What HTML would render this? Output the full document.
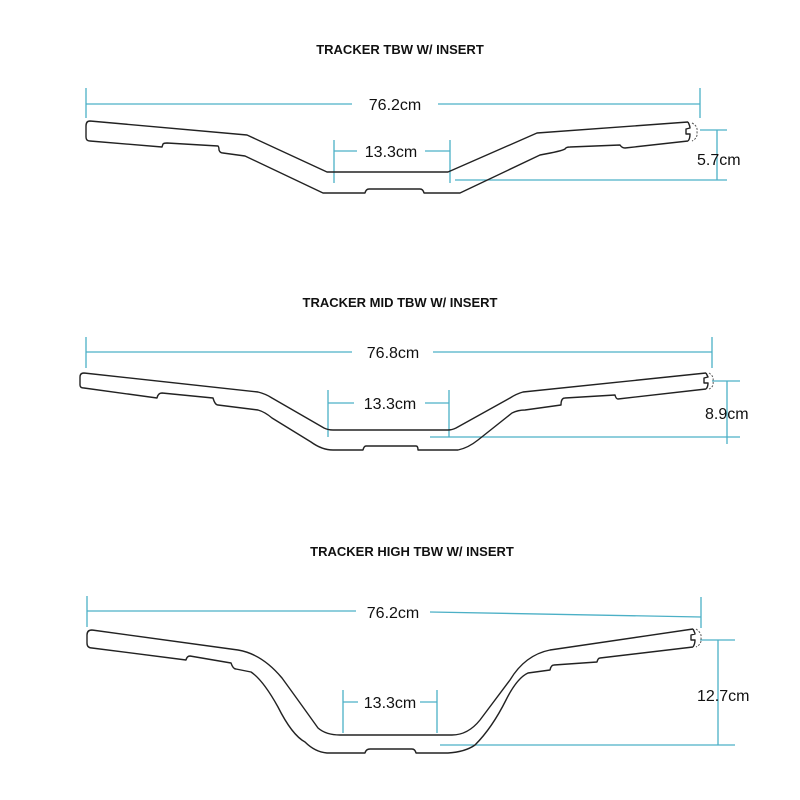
<!DOCTYPE html>
<html><head><meta charset="utf-8"><style>
html,body{margin:0;padding:0;background:#fff;}
svg{display:block;}
.t{font-family:"Liberation Sans",Arial,sans-serif;font-weight:bold;font-size:13px;fill:#111;}
.d{font-family:"Liberation Sans",Arial,sans-serif;font-size:16px;fill:#111;}
.c{stroke:#4cb0c6;stroke-width:1.3;fill:none;}
.b{stroke:#222;stroke-width:1.4;fill:none;stroke-linejoin:round;}
.dot{stroke:#555;stroke-width:1;fill:none;stroke-dasharray:2 1.5;}
</style></head><body>
<svg width="800" height="800" viewBox="0 0 800 800">
<rect width="800" height="800" fill="#fff"/>
<!-- Bar 1 -->
<text class="t" x="400" y="54" text-anchor="middle">TRACKER TBW W/ INSERT</text>
<path class="c" d="M86 88V118 M86 104H352 M438 104H700 M700 88V118"/>
<text class="d" x="395" y="110" text-anchor="middle">76.2cm</text>
<path class="c" d="M334 140V183 M450 140V183 M334 151H357 M425 151H450"/>
<text class="d" x="391" y="157" text-anchor="middle">13.3cm</text>
<path class="c" d="M700 130H727 M455 180H727 M717 130V180"/>
<text class="d" x="697" y="165">5.7cm</text>
<path class="b" d="M90 121 L247 135 L327 172 L448 172 L537 133 L688 122 M90 121 Q86 121 86 126 L86 137 Q86 141 90 141 L162 147 L163 144 Q164 143 167 143 L218 146 Q219 147 219 150 Q220 153 223 153 L245 156 L323 193 L365 193 Q366 189 369 189 L420 189 Q423 189 424 193 L460 193 L540 155 Q562 151 565 149 Q566 147 570 147 L620 145 Q622 148 625 148 L688 141 M688 122 Q690 126 690 128 L686 129 L686 134 L690 134 Q690 139 688 141"/>
<path class="dot" d="M692 123 Q698 126 697 132 Q698 138 692 141"/>
<!-- Bar 2 -->
<text class="t" x="400" y="307" text-anchor="middle">TRACKER MID TBW W/ INSERT</text>
<path class="c" d="M86 337V368 M86 352H352 M433 352H712 M712 337V368"/>
<text class="d" x="393" y="358" text-anchor="middle">76.8cm</text>
<path class="c" d="M328 390V437 M449 390V437 M328 403H354 M425 403H449"/>
<text class="d" x="390" y="409" text-anchor="middle">13.3cm</text>
<path class="c" d="M712 381H740 M430 437H740 M727 381V444"/>
<text class="d" x="705" y="419">8.9cm</text>
<path class="b" d="M84 373 L258 392 Q266 394 272 398 L324 428 Q328 430 333 430 L448 430 Q452 430 456 428 L510 398 Q516 394 523 392 L706 373 M84 373 Q80 373 80 377 L80 385 Q80 388 84 388 L157 398 Q158 393 162 393 L213 398 Q215 405 218 405 L258 410 Q265 412 272 418 L311 442 Q322 450 333 450 L363 450 Q364 446 366 446 L416 446 Q418 446 418 450 L458 450 Q468 448 478 440 L512 413 Q518 410 525 410 L561 405 Q561 398 565 398 L615 395 Q616 399 618 399 L706 389 M706 373 Q708 377 708 377 L704 378 L704 383 L708 383 Q708 387 706 389"/>
<path class="dot" d="M709 373 Q714 376 713 381 Q714 387 709 389"/>
<!-- Bar 3 -->
<text class="t" x="412" y="556" text-anchor="middle">TRACKER HIGH TBW W/ INSERT</text>
<path class="c" d="M87 596V627 M87 611H356 M430 612L701 617 M701 597V628"/>
<text class="d" x="393" y="618" text-anchor="middle">76.2cm</text>
<path class="c" d="M343 690V733 M437 690V733 M343 702H358 M420 702H437"/>
<text class="d" x="390" y="708" text-anchor="middle">13.3cm</text>
<path class="c" d="M700 640H735 M440 745H735 M718 640V745"/>
<text class="d" x="697" y="701">12.7cm</text>
<path class="b" d="M92 630 L238 650 Q262 654 282 678 Q298 700 318 728 Q326 735 340 735 L452 735 Q468 735 480 720 L510 680 Q525 655 550 650 L693 629 M92 630 Q87 630 87 635 L87 643 Q87 648 92 648 L186 660 Q187 656 190 656 L231 663 Q233 669 236 669 L251 672 Q263 680 278 707 Q292 735 305 742 Q315 752 327 753 L365 753 Q366 749 370 749 L412 749 Q415 749 416 753 L448 753 Q465 752 475 745 Q492 728 506 700 Q517 678 528 673 L550 670 Q551 665 554 665 L597 662 Q598 658 600 658 L693 647 M693 629 Q695 633 695 634 L691 635 L691 640 L695 640 Q695 644 693 647"/>
<path class="dot" d="M696 629 Q702 633 701 638 Q702 644 696 647"/>
</svg>
</body></html>
